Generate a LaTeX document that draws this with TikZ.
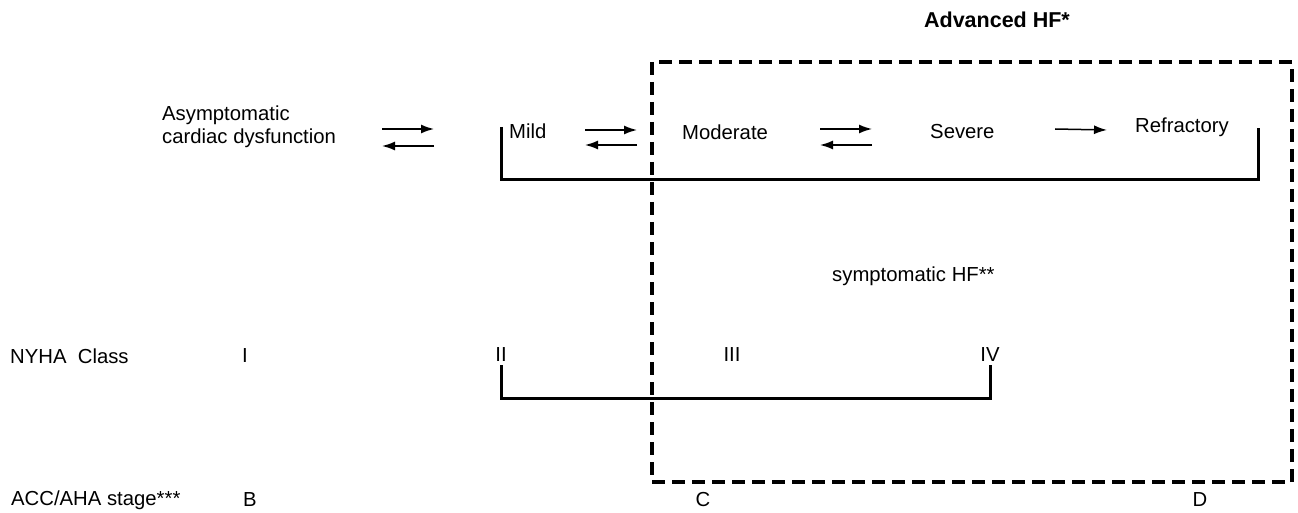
\documentclass[tikz,border=0pt]{standalone}
\usepackage{fontspec}
\setmainfont{Liberation Sans}
\usetikzlibrary{arrows.meta}
\begin{document}
\begin{tikzpicture}[x=1pt,y=-1pt,
  lbl/.style={font=\fontsize{20.3}{22.5}\selectfont, inner sep=0pt},
  lbll/.style={lbl, anchor=west},
  arr/.style={line width=1.5pt, -{Latex[length=13pt,width=9pt]}},
  brk/.style={line width=3pt, line join=miter},
  dbox/.style={line width=4pt, dash pattern=on 13pt off 7pt}]
\useasboundingbox (0,0) rectangle (1298,513);
% dashed box
\draw[dbox] (652,62) rectangle (1292,482);
% title
\node[lbl, font=\fontsize{21.5}{24}\selectfont\bfseries] (adv) at (997,20) {Advanced HF*};
% top row
\node[lbll, align=left] (asym) at (162,127) {Asymptomatic\\cardiac dysfunction};
\node[lbll] (mild) at (509,131) {Mild};
\node[lbll] (mod) at (682,132) {Moderate};
\node[lbll] (sev) at (930,132) {Severe};
\node[lbll] (ref) at (1135,127) {Refractory};
% arrows
\coordinate (a1s) at (382,129); \coordinate (a1e) at (434,129);
\coordinate (b1s) at (434,146); \coordinate (b1e) at (382,146);
\draw[arr] (a1s) -- (a1e); \draw[arr] (b1s) -- (b1e);
\coordinate (a2s) at (585,130); \coordinate (a2e) at (637,130);
\coordinate (b2s) at (637,145); \coordinate (b2e) at (585,145);
\draw[arr] (a2s) -- (a2e); \draw[arr] (b2s) -- (b2e);
\coordinate (a3s) at (820,129); \coordinate (a3e) at (872,129);
\coordinate (b3s) at (872,145); \coordinate (b3e) at (820,145);
\draw[arr] (a3s) -- (a3e); \draw[arr] (b3s) -- (b3e);
\coordinate (a4s) at (1055,129); \coordinate (a4e) at (1107,130);
\draw[arr] (a4s) -- (a4e);
% upper bracket
\coordinate (u1) at (501,127); \coordinate (u2) at (1258,128);
\draw[brk] (u1) -- (501,180) -- (1258,180) -- (u2);
\node[lbll] (symp) at (832,276) {symptomatic HF**};
% NYHA
\node[lbll] (nyha) at (10,356) {NYHA\ \ Class};
\node[lbl] (c1) at (245,356) {I};
\node[lbl] (c2) at (501,355) {II};
\node[lbl] (c3) at (732,355) {III};
\node[lbl] (c4) at (990,355) {IV};
% lower bracket
\coordinate (l1) at (501,365); \coordinate (l2) at (990,365);
\draw[brk] (l1) -- (501,398) -- (990,398) -- (l2);
% ACC/AHA
\node[lbll] (acc) at (11,500) {ACC/AHA stage***};
\node[lbl] (sb) at (250,500) {B};
\node[lbl] (sc) at (703,500) {C};
\node[lbl] (sd) at (1200,500) {D};
\end{tikzpicture}
\end{document}
